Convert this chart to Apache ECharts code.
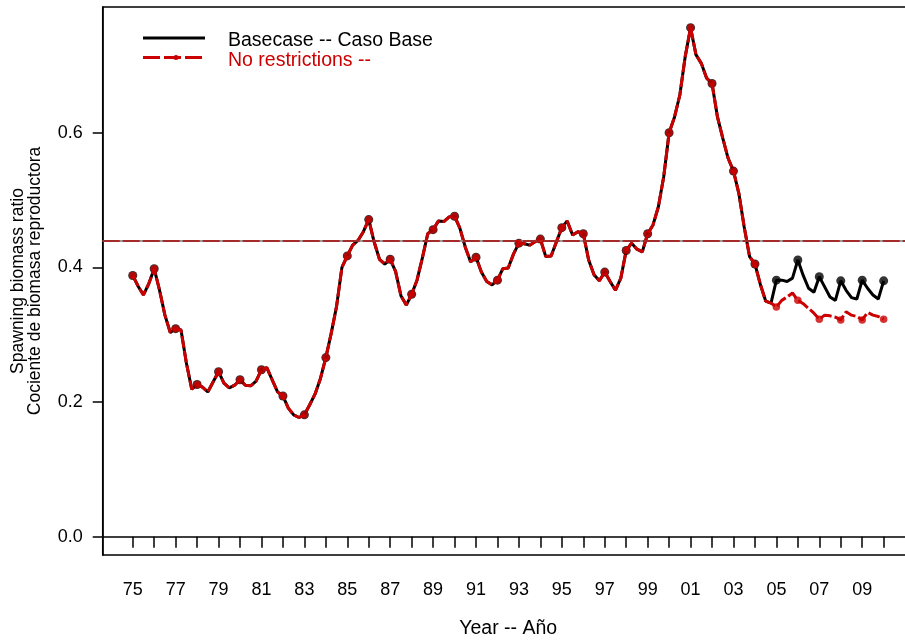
<!DOCTYPE html>
<html>
<head>
<meta charset="utf-8">
<script src="https://cdn.jsdelivr.net/npm/echarts@6/dist/echarts.min.js"></script>
<style>html,body{margin:0;padding:0;background:#fff}#c{width:905px;height:640px}</style>
</head>
<body>
<div id="c"></div>
<script>
// Quarterly spawning biomass ratio, 1975.00 .. 2004.75 (shared by both scenarios)
const history = [
  0.388, 0.372, 0.359, 0.376,
  0.398, 0.366, 0.329, 0.303,
  0.309, 0.307, 0.258, 0.219,
  0.226, 0.222, 0.215, 0.230,
  0.245, 0.228, 0.221, 0.225,
  0.233, 0.225, 0.224, 0.231,
  0.248, 0.251, 0.233, 0.215,
  0.209, 0.191, 0.181, 0.177,
  0.181, 0.196, 0.212, 0.235,
  0.266, 0.302, 0.342, 0.400,
  0.417, 0.433, 0.440, 0.453,
  0.471, 0.438, 0.412, 0.405,
  0.412, 0.394, 0.358, 0.344,
  0.360, 0.381, 0.414, 0.450,
  0.456, 0.469, 0.468, 0.475,
  0.476, 0.458, 0.430, 0.408,
  0.415, 0.393, 0.379, 0.374,
  0.381, 0.398, 0.399, 0.420,
  0.436, 0.435, 0.433, 0.438,
  0.442, 0.416, 0.417, 0.438,
  0.459, 0.469, 0.448, 0.453,
  0.450, 0.411, 0.389, 0.380,
  0.393, 0.379, 0.366, 0.384,
  0.425, 0.436, 0.427, 0.423,
  0.450, 0.463, 0.490, 0.535,
  0.600, 0.623, 0.656, 0.713,
  0.756, 0.716, 0.703, 0.681,
  0.673, 0.624, 0.592, 0.562,
  0.543, 0.510, 0.460, 0.416,
  0.405, 0.375, 0.350, 0.347
];
// Projections 2005.00 .. 2010.00
const baseProj = [
  0.381, 0.381, 0.379, 0.384,
  0.411, 0.388, 0.369, 0.363,
  0.386, 0.371, 0.356, 0.351,
  0.380, 0.366, 0.355, 0.353,
  0.381, 0.369, 0.359, 0.353,
  0.380
];
const noRestrProj = [
  0.341, 0.351, 0.356, 0.362,
  0.351, 0.346, 0.339, 0.332,
  0.323, 0.329, 0.328, 0.326,
  0.322, 0.334, 0.329, 0.327,
  0.322, 0.333, 0.329, 0.327,
  0.323
];
const refLevel = 0.4365;
const startYear = 1975;
const xTickYears = [1975,1976,1977,1978,1979,1980,1981,1982,1983,1984,1985,1986,1987,1988,1989,1990,1991,1992,1993,1994,1995,1996,1997,1998,1999,2000,2001,2002,2003,2004,2005,2006,2007,2008,2009,2010];
const xLabelYears = [1975,1977,1979,1981,1983,1985,1987,1989,1991,1993,1995,1997,1999,2001,2003,2005,2007,2009];
const yTicks = [0, 0.2, 0.4, 0.6];
const legendNames = ['Basecase -- Caso Base', 'No restrictions --'];

const FONT = 'Liberation Sans, Arial, Helvetica, sans-serif';
const RED = '#cc0000';

function toPairs(arr) { return arr.map((v, i) => [startYear + i * 0.25, v]); }
const baseData = toPairs(history.concat(baseProj));
const noRData = toPairs(history.concat(noRestrProj));
const baseAnnual = baseData.filter((d, i) => i % 4 === 0);
const noRAnnual = noRData.filter((d, i) => i % 4 === 0);

const chart = echarts.init(document.getElementById('c'), null, {renderer: 'canvas'});
chart.setOption({
  animation: false,
  backgroundColor: '#fff',
  grid: {left: 102.7, top: 7, width: 811, height: 548, outerBoundsMode: 'none', containLabel: false,
    show: true, borderColor: '#000', borderWidth: 1.5, backgroundColor: 'transparent'},
  xAxis: {
    type: 'value', min: 1973.6, max: 2011.4,
    name: 'Year -- Año', nameLocation: 'middle', nameGap: 64,
    nameTextStyle: {fontFamily: FONT, fontSize: 19.5, color: '#000'},
    axisLine: {show: true, lineStyle: {color: '#000', width: 1.5}},
    axisTick: {show: true, length: 11, lineStyle: {color: '#000', width: 1.5}, customValues: xTickYears},
    axisLabel: {show: true, margin: 26, fontFamily: FONT, fontSize: 18, color: '#000', customValues: xLabelYears,
      formatter: v => String(Math.round(v) % 100).padStart(2, '0')},
    splitLine: {show: false}
  },
  yAxis: {
    type: 'value', min: -0.0272, max: 0.7867,
    axisLine: {show: true, lineStyle: {color: '#000', width: 1.5}},
    axisTick: {show: true, length: 10, lineStyle: {color: '#000', width: 1.5}, customValues: yTicks},
    axisLabel: {show: true, margin: 20, fontFamily: FONT, fontSize: 18, color: '#000', customValues: yTicks,
      formatter: v => v.toFixed(1)},
    splitLine: {show: false}
  },
  series: [
    {
      type: 'line', data: baseData, showSymbol: false, symbol: 'none', z: 2,
      lineStyle: {color: '#000', width: 3},
      markLine: {
        silent: true, symbol: 'none', label: {show: false}, animation: false,
        data: [
          {yAxis: refLevel, lineStyle: {color: '#9a9a9a', width: 2, type: 'solid'}},
          {yAxis: refLevel, lineStyle: {color: '#a52a2a', width: 2, type: [17, 3]}}
        ]
      }
    },
    {type: 'scatter', data: baseAnnual, symbol: 'circle', symbolSize: 9, z: 3,
      itemStyle: {color: '#000'}},
    {
      type: 'line', data: noRData, showSymbol: false, symbol: 'none', z: 4,
      lineStyle: {color: RED, width: 3, type: [12, 3]}
    },
    {type: 'scatter', data: noRAnnual, symbol: 'circle', symbolSize: 7.5, z: 5,
      itemStyle: {color: RED}}
  ],
  graphic: [
    {type: 'line', shape: {x1: 143, y1: 38, x2: 205, y2: 38}, style: {stroke: '#000', lineWidth: 3}},
    {type: 'line', shape: {x1: 143, y1: 57.5, x2: 205, y2: 57.5}, style: {stroke: RED, lineWidth: 3, lineDash: [17, 4]}},
    {type: 'circle', shape: {cx: 176, cy: 57.5, r: 2.5}, style: {fill: RED}},
    {type: 'text', x: 228, y: 41, style: {text: legendNames[0], fill: '#000', font: '19.5px ' + FONT, textVerticalAlign: 'middle'}},
    {type: 'text', x: 228, y: 61, style: {text: legendNames[1], fill: RED, font: '19.5px ' + FONT, textVerticalAlign: 'middle'}},
    {type: 'text', x: 26.5, y: 281, rotation: Math.PI / 2,
      style: {text: 'Spawning biomass ratio\nCociente de biomasa reproductora', fill: '#000', font: '17.5px ' + FONT,
        textAlign: 'center', textVerticalAlign: 'middle', lineHeight: 17}}
  ]
});
</script>
</body>
</html>
